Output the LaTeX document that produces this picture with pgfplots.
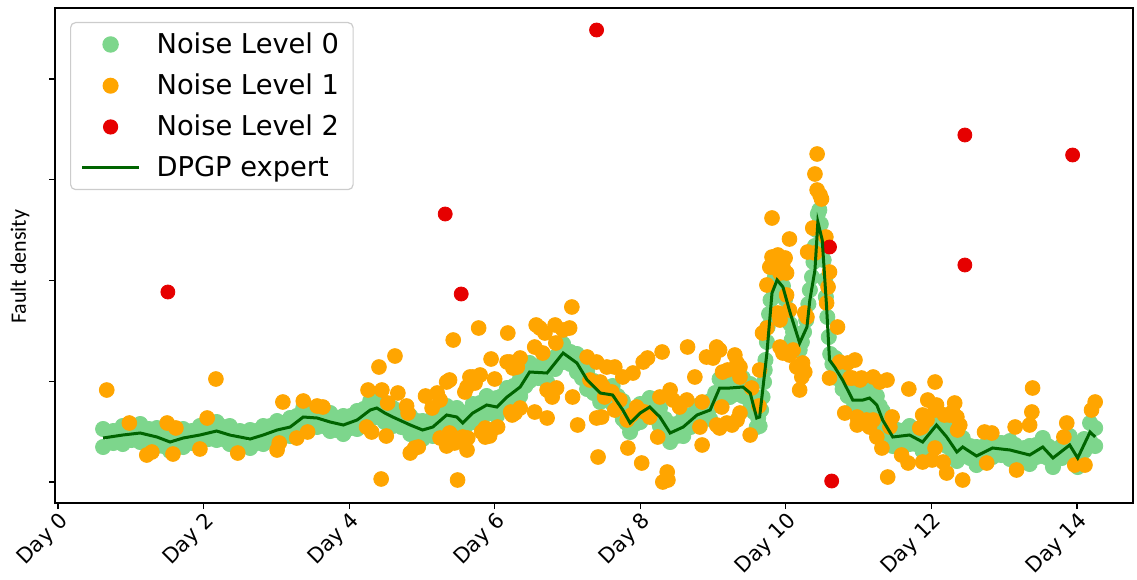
\documentclass[border=0pt]{standalone}
\usepackage{fontspec}
\setmainfont{DejaVu Sans}
\newfontfamily\ylabfont{Carlito}
\usepackage{pgfplots}
\pgfplotsset{compat=1.18}
\definecolor{nl0}{HTML}{7DD68C}
\definecolor{nl1}{HTML}{FFA500}
\definecolor{nl2}{HTML}{E60000}
\definecolor{dpgp}{HTML}{006400}
\begin{document}
\begin{tikzpicture}
\begin{axis}[
  name=ax,
  scale only axis,
  clip marker paths=true,
  width=539pt, height=247.5pt,
  xmin=-0.041, xmax=14.77,
  ymin=-21, ymax=474,
  xtick={0,2,4,6,8,10,12,14},
  xticklabels={Day 0,Day 2,Day 4,Day 6,Day 8,Day 10,Day 12,Day 14},
  x tick label style={rotate=45, anchor=north east, font=\fontsize{10.5}{12}\selectfont, inner sep=0.5pt},
  ytick={0,100.75,201.5,302.25,403},
  yticklabels={},
  xtick pos=bottom, ytick pos=left,
  tick align=outside,
  major tick length=3pt,
  tick style={black, line width=0.6pt},
  axis line style={black, line width=0.6pt},
  ylabel={\ylabfont Fault density},
  ylabel style={at={(axis description cs:-0.0325,0.477)}, anchor=center, font=\fontsize{11}{13}\selectfont},
  legend style={
    at={(0,1)}, anchor=north west, xshift=7.5pt, yshift=-7pt,
    draw=black!20, rounded corners=2.5pt, line width=0.6pt,
    font=\fontsize{13.65}{16}\selectfont,
    inner xsep=5pt, inner ysep=3pt,
    row sep=4.75pt,
    cells={anchor=west},
  },
  legend image code/.code={\path (0pt,0pt) (34.5pt,0pt); \draw[mark repeat=2,mark phase=2,#1] plot coordinates {(0pt,0pt) (14.25pt,0pt) (28.5pt,0pt)};},
]
% Noise Level 0
\addplot[only marks, mark=*, mark size=3.8pt, color=nl0] coordinates {
(0.62,53)(0.62,35)(0.89,56)(0.89,38)(1.13,58)(1.13,40)(1.36,54)(1.36,36)(1.54,49)(1.54,31)
(1.72,53)(1.72,35)(1.95,56)(1.95,38)(2.18,60)(2.18,42)(2.36,56)(2.36,38)(2.64,52)(2.64,34)
(2.82,56)(2.82,38)(3.01,61)(3.01,43)(3.19,64)(3.19,46)(3.37,74)(3.37,56)(3.56,73)(3.56,55)
(3.74,69)(3.74,51)(3.92,66)(3.92,48)(4.11,71)(4.11,53)(4.29,81)(4.29,63)(4.38,83)(4.38,65)
(4.49,78)(4.49,60)(4.60,74)(4.60,56)(4.84,66)(4.84,48)(5.01,61)(5.01,43)(5.15,64)(5.15,46)
(5.34,76)(5.34,58)(5.48,74)(5.48,56)(5.56,68)(5.56,50)(5.70,78)(5.70,60)(5.89,86)(5.89,68)
(6.03,84)(6.03,66)(6.17,94)(6.17,76)(6.35,104)(6.35,86)(6.48,119)(6.48,101)(6.72,118)(6.72,100)
(6.94,138)(6.94,120)(7.13,128)(7.13,110)(7.27,111)(7.27,93)(7.45,98)(7.45,80)(7.62,96)(7.62,78)
(7.76,81)(7.76,63)(7.86,68)(7.86,50)(8.00,78)(8.00,60)(8.13,84)(8.13,66)(8.27,74)(8.27,56)
(8.41,58)(8.41,40)(8.59,64)(8.59,46)(8.78,76)(8.78,58)(8.96,81)(8.96,63)(9.09,103)(9.09,85)
(9.23,103)(9.23,85)(9.41,104)(9.41,86)(9.51,98)(9.51,80)(9.60,73)(9.60,55)
(10.78,111)(10.78,93)(10.92,91)(10.92,73)(11.06,91)(11.06,73)(11.15,93)(11.15,75)(11.25,86)(11.25,68)
(11.33,71)(11.33,53)(11.47,54)(11.47,36)(11.70,56)(11.70,38)(11.88,49)(11.88,31)(12.07,66)(12.07,48)
(12.21,54)(12.21,36)(12.35,39)(12.35,21)(12.43,44)(12.43,26)(12.62,35)(12.62,17)(12.84,43)(12.84,25)
(13.08,41)(13.08,23)(13.35,36)(13.35,18)(13.53,44)(13.53,26)(13.67,33)(13.67,15)(13.90,46)(13.90,28)
(14.01,33)(14.01,15)(14.18,59)(14.18,41)(14.25,54)(14.25,36)
(0.76,51)(0.76,39)(1.01,54)(1.01,42)(1.25,53)(1.25,41)(1.45,48)(1.45,36)(1.63,48)(1.63,36)
(1.84,51)(1.84,39)(2.07,55)(2.07,43)(2.27,55)(2.27,43)(2.50,51)(2.50,39)(2.73,51)(2.73,39)
(2.92,56)(2.92,44)(3.10,59)(3.10,47)(3.28,66)(3.28,54)(3.47,71)(3.47,59)(3.65,68)(3.65,56)
(3.83,64)(3.83,52)(4.02,66)(4.02,54)(4.20,73)(4.20,61)(4.44,78)(4.44,66)(4.55,73)(4.55,61)
(4.72,67)(4.72,55)(4.93,61)(4.93,49)(5.08,59)(5.08,47)(5.25,67)(5.25,55)(5.41,72)(5.41,60)
(5.63,70)(5.63,58)(5.80,79)(5.80,67)(5.96,82)(5.96,70)(6.10,86)(6.10,74)(6.26,96)(6.26,84)
(6.42,108)(6.42,96)(6.60,116)(6.60,104)(6.83,125)(6.83,113)(7.04,130)(7.04,118)(7.20,116)(7.20,104)
(7.36,101)(7.36,89)(7.54,94)(7.54,82)(7.69,86)(7.69,74)(7.81,71)(7.81,59)(7.93,70)(7.93,58)
(8.07,78)(8.07,66)(8.20,76)(8.20,64)(8.34,63)(8.34,51)(8.50,58)(8.50,46)(8.69,67)(8.69,55)
(8.87,76)(8.87,64)(9.03,89)(9.03,77)(9.16,100)(9.16,88)(9.32,100)(9.32,88)(9.46,98)(9.46,86)
(9.56,82)(9.56,70)
(10.85,98)(10.85,86)(10.99,88)(10.99,76)(11.11,89)(11.11,77)(11.20,86)(11.20,74)(11.29,76)(11.29,64)
(11.40,60)(11.40,48)(11.53,52)(11.53,40)(11.64,52)(11.64,40)(11.79,50)(11.79,38)(11.98,54)(11.98,42)
(12.14,57)(12.14,45)(12.28,44)(12.28,32)(12.53,36)(12.53,24)(12.73,36)(12.73,24)(12.96,39)(12.96,27)
(13.15,37)(13.15,25)(13.28,34)(13.28,22)(13.44,37)(13.44,25)(13.60,36)(13.60,24)(13.79,36)(13.79,24)
(13.96,36)(13.96,24)(14.10,43)(14.10,31)
(9.62,64)(9.64,56)(9.66,72)(9.68,85)(9.70,100)(9.71,112)(9.72,122)(9.74,140)(9.75,155)(9.77,168)
(9.79,182)(9.81,195)(9.84,190)(9.85,205)(9.88,211)(9.90,195)(9.92,205)(9.96,196)(9.99,183)(10.00,165)
(10.03,170)(10.06,158)(10.08,142)(10.10,150)(10.12,132)(10.14,140)(10.19,132)(10.22,140)(10.25,150)
(10.28,162)(10.31,178)(10.33,192)(10.36,205)(10.38,220)(10.40,236)(10.42,252)(10.44,268)(10.46,272)
(10.48,258)(10.50,242)(10.52,222)(10.54,202)(10.55,185)(10.57,165)(10.59,145)(10.61,128)(10.64,118)
(10.68,124)(10.70,104)(10.72,112)(10.75,105)
};
\addlegendentry{Noise Level 0}
% Noise Level 1
\addplot[only marks, mark=*, mark size=3.7pt, color=nl1] coordinates {
(0.67,92)(0.98,59)(1.22,27)(1.29,30)(1.50,59)(1.62,54)(1.58,28)(1.95,33)(2.05,64)(2.17,103)
(2.47,29)(3.01,32)(3.04,39)(3.09,80)(3.28,44)(3.37,81)(3.43,50)(3.56,76)(3.64,75)
(4.24,55)(4.31,50)(4.26,92)(4.41,115)(4.45,92)(4.51,46)(4.44,3)(4.53,79)(4.63,126)(4.67,89)
(4.79,76)(4.81,69)(4.84,29)(4.90,34)(4.95,35)(5.05,86)(5.14,74)(5.21,89)(5.25,82)(5.25,44)
(5.34,100)(5.34,36)(5.43,45)(5.45,39)(5.38,102)(5.43,142)(5.49,2)(5.38,49)(5.48,42)(5.56,45)
(5.62,32)(5.63,44)(5.59,90)(5.62,95)(5.66,105)(5.70,105)(5.73,99)(5.80,107)(5.78,154)(5.82,50)
(5.87,54)(5.87,45)(5.93,46)(5.95,123)(5.96,52)(6.00,103)(6.04,55)(6.17,120)(6.18,149)(6.21,120)
(6.25,114)(6.22,70)(6.28,69)(6.24,67)(6.31,115)(6.35,124)(6.35,74)(6.55,135)(6.55,70)(6.57,157)
(6.62,154)(6.66,129)(6.69,149)(6.72,92)(6.72,64)(6.79,85)(6.83,157)(6.84,139)(6.85,94)(6.94,152)
(7.03,154)(7.06,175)(7.07,85)(7.14,57)(7.27,125)(7.31,102)(7.40,120)(7.40,64)(7.42,25)(7.45,100)
(7.47,65)(7.49,95)(7.51,85)(7.54,115)(7.61,90)(7.65,115)(7.65,72)(7.72,82)(7.76,105)(7.82,62)
(7.83,34)(7.88,67)(7.90,109)(7.95,75)(8.02,19)(8.04,120)(8.06,70)(8.10,124)(8.13,65)(8.24,45)
(8.27,85)(8.30,130)(8.31,0)(8.37,10)(8.38,2)(8.41,92)(8.45,82)(8.54,75)(8.64,82)(8.65,135)
(8.75,105)(8.82,55)(8.85,80)(8.85,37)(8.91,125)(9.00,124)(9.05,135)(9.05,57)(9.09,132)(9.09,54)
(9.12,75)(9.13,110)(9.20,112)(9.19,59)(9.26,57)(9.30,127)(9.33,119)(9.33,62)(9.37,115)(9.37,69)
(9.37,105)(9.51,47)(9.53,94)(9.63,76)(9.64,112)(9.68,149)(9.74,154)(9.74,197)(9.78,215)(9.81,264)
(9.81,225)(9.82,215)(9.89,227)(9.99,224)(9.96,215)(9.92,209)(10.01,209)(9.89,169)(9.92,162)(9.92,135)
(9.96,129)(10.01,187)(10.05,243)(10.05,172)(10.05,127)(10.10,132)(10.15,115)(10.19,92)(10.22,105)(10.23,119)
(10.26,110)(10.26,169)(10.29,165)(10.30,230)(10.37,254)(10.40,229)(10.40,308)(10.43,328)(10.43,292)(10.47,287)
(10.49,283)(10.55,245)(10.56,179)(10.60,210)(10.58,195)(10.60,104)(10.71,155)(10.74,120)(10.81,69)(10.85,119)
(10.91,104)(10.95,122)(10.98,65)(10.98,57)(10.88,104)(11.02,102)(11.04,104)(11.02,62)(11.11,62)(11.15,55)
(11.09,59)(11.20,62)(11.20,105)(11.25,45)(11.29,100)(11.39,102)(11.32,34)(11.40,5)(11.43,55)(11.46,65)
(11.59,27)(11.68,19)(11.69,93)(11.84,54)(11.87,55)(11.88,67)(11.88,20)(11.94,62)(11.95,82)(12.01,22)
(12.05,100)(12.05,72)(12.05,34)(12.07,77)(12.16,20)(12.18,67)(12.21,9)(12.25,67)(12.29,70)(12.32,79)
(12.35,65)(12.36,52)(12.39,57)(12.43,2)(12.73,50)(12.76,19)(12.83,49)(13.15,55)(13.17,12)(13.35,57)
(13.38,70)(13.39,94)(13.82,45)(13.86,59)(13.97,17)(14.11,17)(14.20,72)(14.25,80)
};
\addlegendentry{Noise Level 1}
% Noise Level 2
\addplot[only marks, mark=*, mark size=3.5pt, color=nl2] coordinates {
(1.51,190)(5.32,268)(5.54,188)(7.40,452)(10.60,235)(10.63,1)(12.46,347)(12.46,217)(13.94,327)
};
\addlegendentry{Noise Level 2}
% DPGP expert
\addplot[no marks, color=dpgp, line width=1.5pt] coordinates {
(0.62,44)(0.89,47)(1.13,49)(1.36,45)(1.54,40)(1.72,44)(1.95,47)(2.18,51)(2.36,47)(2.64,43)
(2.82,47)(3.01,52)(3.19,55)(3.37,65)(3.56,64)(3.74,60)(3.92,57)(4.11,62)(4.29,72)(4.38,74)
(4.49,69)(4.60,65)(4.84,57)(5.01,52)(5.15,55)(5.34,67)(5.48,65)(5.56,59)(5.70,69)(5.89,77)
(6.03,75)(6.17,85)(6.35,95)(6.48,110)(6.72,109)(6.94,129)(7.13,119)(7.27,102)(7.45,89)(7.62,87)
(7.76,72)(7.86,59)(8.00,69)(8.13,75)(8.27,65)(8.41,49)(8.59,55)(8.78,67)(8.96,72)(9.09,94)
(9.23,94)(9.41,95)(9.51,89)(9.60,64)(9.64,65)(9.74,129)(9.81,189)(9.88,202)(9.96,195)(10.06,169)
(10.19,139)(10.29,155)(10.33,182)(10.40,212)(10.44,260)(10.50,242)(10.56,175)(10.60,122)(10.67,115)(10.78,102)
(10.92,82)(11.06,82)(11.15,84)(11.25,77)(11.33,62)(11.47,45)(11.70,47)(11.88,40)(12.07,57)(12.21,45)
(12.35,30)(12.43,35)(12.62,26)(12.84,34)(13.08,32)(13.35,27)(13.53,35)(13.67,24)(13.90,37)(14.01,24)
(14.18,50)(14.25,45)
};
\addlegendentry{DPGP expert}
\end{axis}
\pgfresetboundingbox
\path[use as bounding box] ([shift={(-27.5pt,-38pt)}]ax.south west) rectangle ([shift={(2pt,4pt)}]ax.north east);
\end{tikzpicture}
\end{document}
